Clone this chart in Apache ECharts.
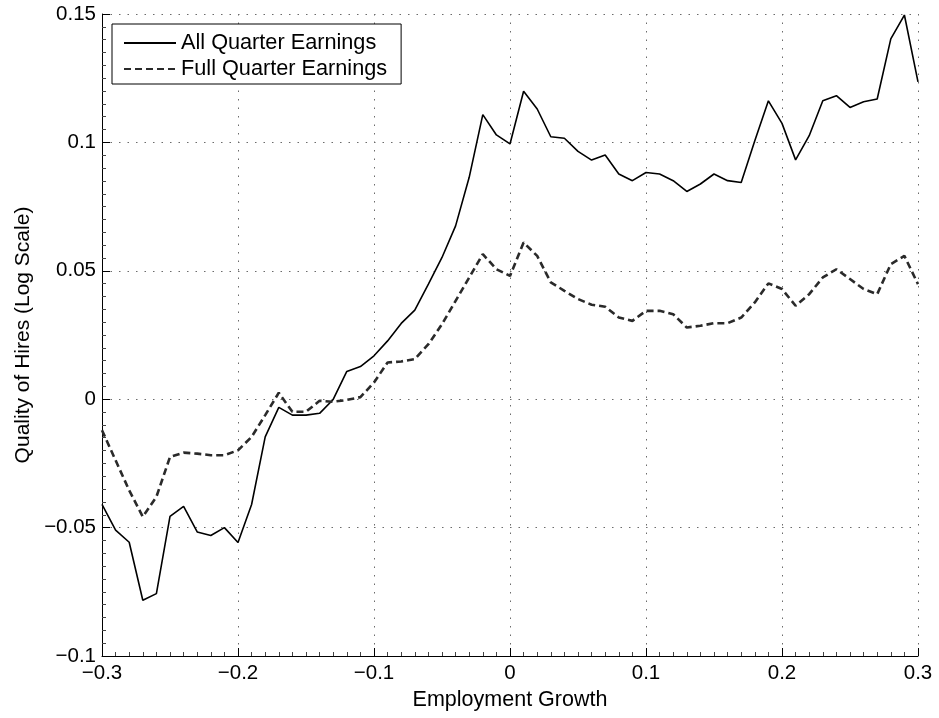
<!DOCTYPE html>
<html>
<head>
<meta charset="utf-8">
<script src="https://cdn.jsdelivr.net/npm/echarts@6/dist/echarts.min.js"></script>
<style>
html,body{margin:0;padding:0;background:#fff;}
#chart{width:939px;height:718px;}
</style>
</head>
<body>
<div id="chart"></div>
<script>
// Employment growth (x)
var xs = [-0.30,-0.29,-0.28,-0.27,-0.26,-0.25,-0.24,-0.23,-0.22,-0.21,
          -0.20,-0.19,-0.18,-0.17,-0.16,-0.15,-0.14,-0.13,-0.12,-0.11,
          -0.10,-0.09,-0.08,-0.07,-0.06,-0.05,-0.04,-0.03,-0.02,-0.01,
           0.00, 0.01, 0.02, 0.03, 0.04, 0.05, 0.06, 0.07, 0.08, 0.09,
           0.10, 0.11, 0.12, 0.13, 0.14, 0.15, 0.16, 0.17, 0.18, 0.19,
           0.20, 0.21, 0.22, 0.23, 0.24, 0.25, 0.26, 0.27, 0.28, 0.29, 0.30];

// All Quarter Earnings
var allQuarter = [-0.0410,-0.0510,-0.0557,-0.0783,-0.0757,-0.0456,-0.0417,-0.0517,-0.0531,-0.0500,
                  -0.0558,-0.0410,-0.0147,-0.0032,-0.0062,-0.0062,-0.0055,-0.0001, 0.0108, 0.0127,
                   0.0169, 0.0227, 0.0295, 0.0347, 0.0448, 0.0552, 0.0675, 0.0864, 0.1108, 0.1029,
                   0.0994, 0.1199, 0.1130, 0.1022, 0.1016, 0.0965, 0.0931, 0.0951, 0.0877, 0.0851,
                   0.0883, 0.0877, 0.0851, 0.0809, 0.0838, 0.0877, 0.0851, 0.0844, 0.1006, 0.1162,
                   0.1074, 0.0932, 0.1026, 0.1162, 0.1182, 0.1136, 0.1158, 0.1169, 0.1403, 0.1496, 0.1236];

// Full Quarter Earnings
var fullQuarter = [-0.0121,-0.0238,-0.0355,-0.0458,-0.0380,-0.0225,-0.0208,-0.0212,-0.0218,-0.0218,
                   -0.0199,-0.0147,-0.0062, 0.0025,-0.0049,-0.0049,-0.0006,-0.0010,-0.0003, 0.0008,
                    0.0065, 0.0143, 0.0147, 0.0156, 0.0214, 0.0292, 0.0383, 0.0474, 0.0565, 0.0506,
                    0.0480, 0.0610, 0.0558, 0.0455, 0.0422, 0.0390, 0.0368, 0.0360, 0.0318, 0.0305,
                    0.0344, 0.0344, 0.0331, 0.0279, 0.0286, 0.0296, 0.0296, 0.0318, 0.0377, 0.0451,
                    0.0429, 0.0364, 0.0409, 0.0474, 0.0506, 0.0468, 0.0429, 0.0409, 0.0526, 0.0558, 0.0448];

var seriesNames = ['All Quarter Earnings', 'Full Quarter Earnings'];
var xName = 'Employment Growth';
var yName = 'Quality of Hires (Log Scale)';

function pairs(ys){ return xs.map(function(x,i){ return [x, ys[i]]; }); }
function fmt(v){
  if (Math.abs(v) < 1e-9) return '0';
  return String(+v.toFixed(3)).replace('-', '\u2212');
}

var FONT = '"Liberation Sans", Arial, Helvetica, sans-serif';
var gridLine = { show: true, lineStyle: { color: '#6b6b6b', width: 1, type: [1.5, 7] } };

var chart = echarts.init(document.getElementById('chart'), null, { renderer: 'canvas' });
chart.setOption({
  animation: false,
  backgroundColor: '#fff',
  textStyle: { fontFamily: FONT, color: '#000' },
  grid: { left: 102, right: 21, top: 14, bottom: 62, containLabel: false },
  legend: {
    orient: 'vertical',
    left: 112, top: 24,
    padding: [8, 14, 4, 11],
    itemGap: 4,
    itemWidth: 52,
    itemHeight: 14,
    borderColor: '#000', borderWidth: 1,
    backgroundColor: '#fff',
    borderRadius: 0,
    itemStyle: { opacity: 0 },
    textStyle: { fontFamily: FONT, fontSize: 21.7, color: '#000' },
    data: seriesNames
  },
  xAxis: {
    type: 'value',
    min: -0.3, max: 0.3, interval: 0.1,
    name: xName, nameLocation: 'middle', nameGap: 30,
    nameTextStyle: { fontFamily: FONT, fontSize: 21.5, color: '#000' },
    axisLine: { show: true, onZero: false, lineStyle: { color: '#000', width: 1 } },
    axisTick: { show: true, inside: true, length: 8, lineStyle: { color: '#000' } },
    minorTick: { show: true, splitNumber: 10, length: 4, lineStyle: { color: '#444' } },
    axisLabel: { fontFamily: FONT, fontSize: 20.5, color: '#000', margin: 7, formatter: fmt },
    splitLine: gridLine
  },
  yAxis: {
    type: 'value',
    min: -0.1, max: 0.15, interval: 0.05,
    name: yName, nameLocation: 'middle', nameGap: 66,
    nameTextStyle: { fontFamily: FONT, fontSize: 21, color: '#000' },
    axisLine: { show: true, onZero: false, lineStyle: { color: '#000', width: 1 } },
    axisTick: { show: true, inside: true, length: 8, lineStyle: { color: '#000' } },
    minorTick: { show: true, splitNumber: 10, length: 4, lineStyle: { color: '#444' } },
    axisLabel: { fontFamily: FONT, fontSize: 20.5, color: '#000', margin: 6, formatter: fmt },
    splitLine: gridLine
  },
  series: [
    {
      name: seriesNames[0], type: 'line', data: pairs(allQuarter),
      symbol: 'none', smooth: false,
      lineStyle: { color: '#000', width: 1.6, type: 'solid' },
      itemStyle: { color: '#000' }
    },
    {
      name: seriesNames[1], type: 'line', data: pairs(fullQuarter),
      symbol: 'none', smooth: false,
      lineStyle: { color: '#2a2a2a', width: 2.6, type: [7, 4] },
      itemStyle: { color: '#2a2a2a' }
    }
  ]
});
</script>
</body>
</html>
